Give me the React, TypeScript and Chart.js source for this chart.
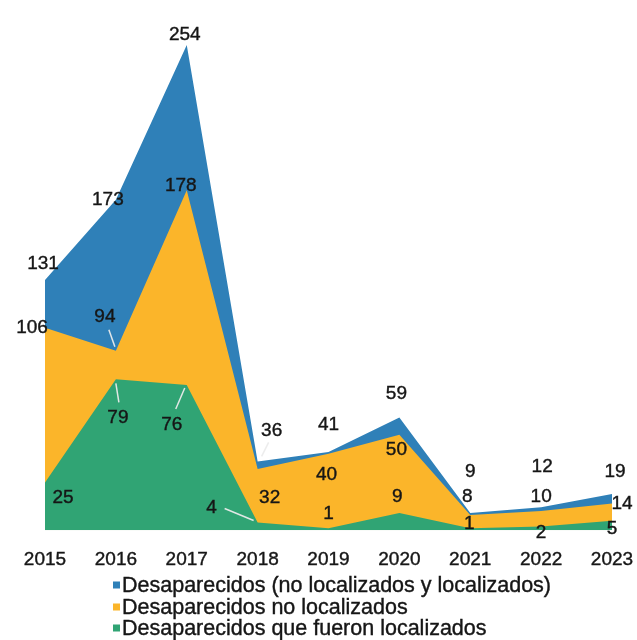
import React, { useEffect, useRef } from "react";
import { Chart, registerables } from "chart.js";

Chart.register(...registerables);

// ---- data ----
const years = ["2015", "2016", "2017", "2018", "2019", "2020", "2021", "2022", "2023"];
const totalValues = [131, 173, 254, 36, 41, 59, 9, 12, 19];
const notLocatedValues = [106, 94, 178, 32, 40, 50, 8, 10, 14];
const locatedValues = [25, 79, 76, 4, 1, 9, 1, 2, 5];
const seriesNames = [
  "Desaparecidos (no localizados y localizados)",
  "Desaparecidos no localizados",
  "Desaparecidos que fueron localizados",
];

// ---- styles ----
const seriesColors = ["#2F80B8", "#FBB52A", "#30A474"];
const FONT = "'Liberation Sans', Arial, Helvetica, sans-serif";
const TEXT = "#161616";

// label offsets (dx, dy) relative to each data point, per series
const labelOffsets = [
  [[-2, -16], [-8, 0], [-2, -10], [14, -31], [0, -27], [-3, -24], [0, -41], [1, -41], [3, -22]],
  [[-13, 0], [-11, -34], [-6, -4], [12, 29], [-2, 21], [-3, 15], [-3, -18], [0, -14], [10, 0]],
  [[18, 15], [2, 38], [-15, 40], [-46, -15], [0, -15], [-2, -16], [-1, -5], [0, 6], [0, 8]],
];

// leader lines: [series, point, x1, y1, x2, y2] relative to the point
const leaders = [
  [1, 1, -7, -21, -1, -4],
  [2, 1, 0, 4, 3, 23],
  [2, 2, -2, 3, -11, 24],
  [2, 3, -33, -14, -4, -2],
  [0, 3, 4, -5, 11, -19],
];

const labelPlugin = {
  id: "customLabels",
  afterDatasetsDraw(chart: any) {
    const ctx = chart.ctx;
    ctx.save();
    ctx.strokeStyle = "rgba(235,235,235,0.95)";
    ctx.lineWidth = 1.5;
    leaders.forEach(([s, p, x1, y1, x2, y2]) => {
      const pt = chart.getDatasetMeta(s).data[p];
      ctx.beginPath();
      ctx.moveTo(pt.x + x1, pt.y + y1);
      ctx.lineTo(pt.x + x2, pt.y + y2);
      ctx.stroke();
    });
    ctx.font = `19px ${FONT}`;
    ctx.fillStyle = TEXT;
    ctx.strokeStyle = TEXT;
    ctx.lineWidth = 0.4;
    ctx.textAlign = "center";
    ctx.textBaseline = "middle";
    chart.data.datasets.forEach((ds: any, s: number) => {
      const meta = chart.getDatasetMeta(s);
      meta.data.forEach((pt: any, i: number) => {
        const [dx, dy] = labelOffsets[s][i];
        ctx.fillText(String(ds.data[i]), pt.x + dx, pt.y + dy);
        ctx.strokeText(String(ds.data[i]), pt.x + dx, pt.y + dy);
      });
    });
    ctx.restore();
  },
  afterDraw(chart: any) {
    const ctx = chart.ctx;
    ctx.save();
    const rows = [585, 607, 628];
    ctx.font = `21.5px ${FONT}`;
    ctx.textAlign = "left";
    ctx.textBaseline = "middle";
    ctx.strokeStyle = TEXT;
    ctx.lineWidth = 0.4;
    seriesNames.forEach((name, i) => {
      ctx.fillStyle = seriesColors[i];
      ctx.fillRect(113, rows[i] - 3.5, 7, 7);
      ctx.fillStyle = TEXT;
      ctx.fillText(name, 122, rows[i] + 1);
      ctx.strokeText(name, 122, rows[i] + 1);
    });
    ctx.restore();
  },
};

export default function App() {
  const ref = useRef<HTMLCanvasElement | null>(null);

  useEffect(() => {
    if (!ref.current) return;
    const values = [totalValues, notLocatedValues, locatedValues];
    const chart = new Chart(ref.current, {
      type: "line",
      data: {
        labels: years,
        datasets: values.map((v, i) => ({
          label: seriesNames[i],
          data: v,
          fill: "origin",
          backgroundColor: seriesColors[i],
          borderColor: seriesColors[i],
          borderWidth: 0,
          pointRadius: 0,
          tension: 0,
          order: 3 - i,
        })),
      },
      options: {
        responsive: false,
        animation: false,
        devicePixelRatio: 1,
        layout: { padding: { left: 45, right: 25, top: 45, bottom: 51 } },
        plugins: {
          legend: { display: false },
          tooltip: { enabled: false },
          title: { display: false },
        },
        scales: {
          x: {
            grid: { display: false, drawTicks: false },
            border: { display: false },
            afterFit: (scale: any) => {
              scale.paddingLeft = 0;
              scale.paddingRight = 0;
            },
            ticks: {
              color: TEXT,
              font: { family: FONT, size: 19 },
              padding: 18,
              maxRotation: 0,
              autoSkip: false,
              textStrokeColor: TEXT,
              textStrokeWidth: 0.4,
            },
          },
          y: {
            display: false,
            min: 0,
            max: 254,
          },
        },
      },
      plugins: [labelPlugin],
    });
    return () => chart.destroy();
  }, []);

  return (
    <div style={{ position: "fixed", left: 0, top: 0, width: 637, height: 640, background: "#fff" }}>
      <canvas ref={ref} width={637} height={640} />
    </div>
  );
}
